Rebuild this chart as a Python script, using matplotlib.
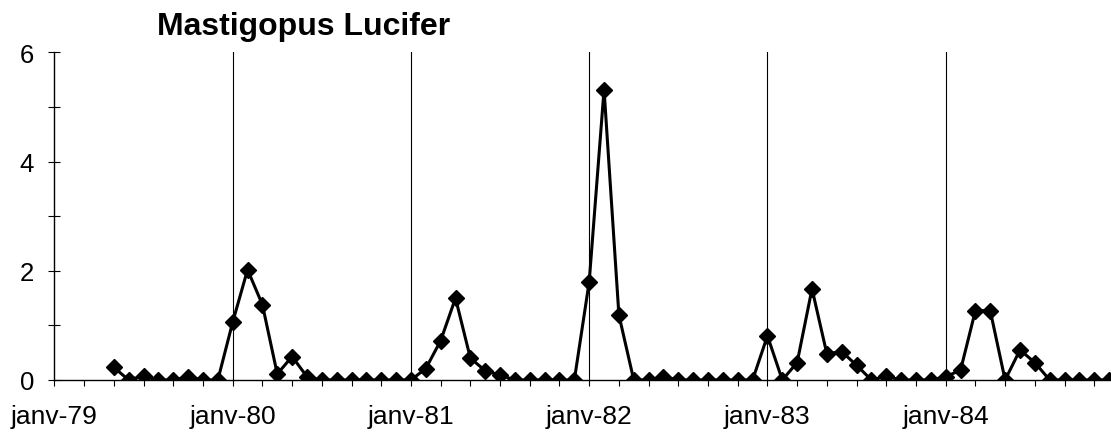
import numpy as np
import matplotlib
matplotlib.use("Agg")
import matplotlib.pyplot as plt
from matplotlib.ticker import MultipleLocator, FixedLocator

plt.rcParams['font.family'] = ['Liberation Sans', 'DejaVu Sans']

# months counted from janv-79 (0 = janv-79)
months = np.arange(4, 72)
values = [
    0.23, 0.00, 0.08, 0.00, 0.00, 0.06, 0.00, 0.00,   # mai-79 .. dec-79
    1.06, 2.02, 1.38, 0.11, 0.43, 0.06, 0.00, 0.00,   # janv-80 .. aout-80
    0.00, 0.00, 0.00, 0.00,                           # sept-80 .. dec-80
    0.00, 0.21, 0.72, 1.50, 0.40, 0.17, 0.09, 0.00,   # janv-81 .. aout-81
    0.00, 0.00, 0.00, 0.00,                           # sept-81 .. dec-81
    1.80, 5.32, 1.19, 0.00, 0.00, 0.06, 0.00, 0.00,   # janv-82 .. aout-82
    0.00, 0.00, 0.00, 0.00,                           # sept-82 .. dec-82
    0.81, 0.00, 0.32, 1.67, 0.48, 0.52, 0.27, 0.00,   # janv-83 .. aout-83
    0.07, 0.00, 0.00, 0.00,                           # sept-83 .. dec-83
    0.06, 0.18, 1.27, 1.27, 0.00, 0.55, 0.32, 0.00,   # janv-84 .. aout-84
    0.00, 0.00, 0.00, 0.00,                           # sept-84 .. dec-84
]
year_ticks = [0, 12, 24, 36, 48, 60]
year_labels = ['janv-79', 'janv-80', 'janv-81', 'janv-82', 'janv-83', 'janv-84']
year_lines = [12, 24, 36, 48, 60]

fig = plt.figure(figsize=(11.11, 4.35), dpi=100)
W, H = 1111, 435
x0, y0 = 54.45, 381.0
px_month = 14.854
px_unit = 54.6
ax = fig.add_axes([x0 / W, (H - y0) / H, 72 * px_month / W, 6 * px_unit / H])

for m in year_lines:
    ax.axvline(m, color='black', lw=0.8, zorder=1)

ax.plot(months, values, color='black', lw=2.2, marker='D', ms=8.3,
        markerfacecolor='black', markeredgecolor='black', zorder=3)

ax.set_xlim(0, 72)
ax.set_ylim(0, 6)

ax.xaxis.set_major_locator(FixedLocator(year_ticks))
ax.set_xticklabels(year_labels)
ax.xaxis.set_minor_locator(MultipleLocator(2))
ax.yaxis.set_major_locator(MultipleLocator(2))
ax.yaxis.set_minor_locator(MultipleLocator(1))

ax.tick_params(axis='x', which='both', direction='out', length=4.5, width=0.8,
               labelsize=19, pad=13)
ax.tick_params(axis='y', which='both', direction='inout', length=8.6, width=0.8,
               labelsize=18.5, pad=10.5)

for s in ['top', 'right']:
    ax.spines[s].set_visible(False)
for s in ['left', 'bottom']:
    ax.spines[s].set_linewidth(1.0)

fig.text(157 / W, 1 - 35 / H, 'Mastigopus Lucifer', fontsize=23,
         fontweight='bold', ha='left', va='baseline')

fig.savefig('out.png', dpi=100)
